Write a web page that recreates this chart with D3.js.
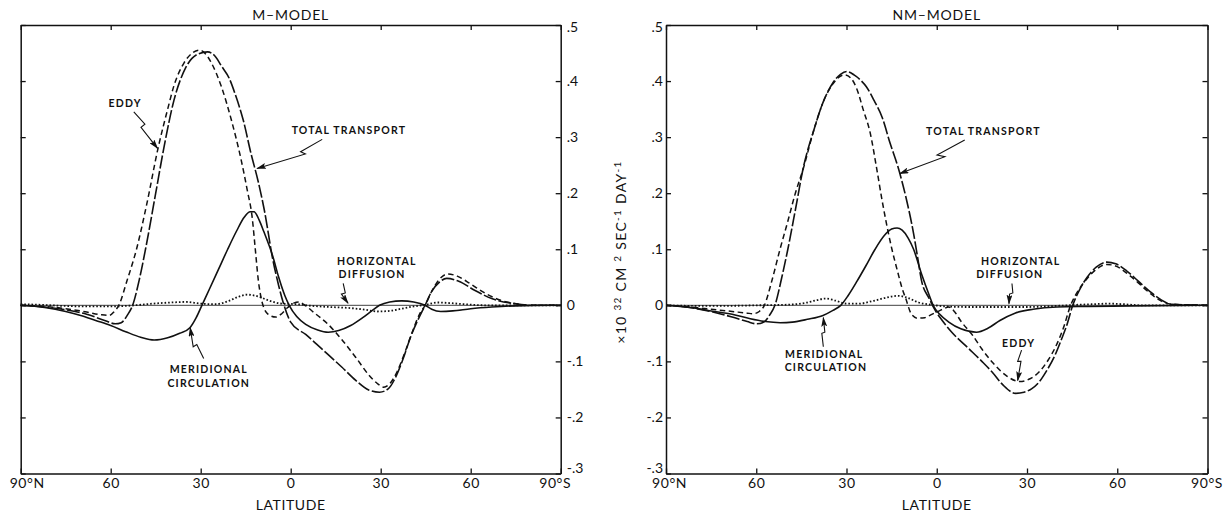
<!DOCTYPE html>
<html>
<head>
<meta charset="utf-8">
<script src="https://cdn.jsdelivr.net/npm/d3@7"></script>
<style>
  body { margin: 0; background: #fff; }
  svg { display: block; }
  text { font-family: Lato, "Open Sans", sans-serif; fill: #111; }
  .note { font-weight: bold; font-size: 10.5px; letter-spacing: 1.2px; }
</style>
</head>
<body>
<svg id="chart" width="1231" height="514"></svg>
<script>
// Latitude axis (degrees, north positive) and transport axis (10^32 cm^2 s^-1 day^-1)
const latTicks = [90, 60, 30, 0, -30, -60, -90];
const latTickLabels = ["90°N", "60", "30", "0", "30", "60", "90°S"];
const valueTicks = [0.5, 0.4, 0.3, 0.2, 0.1, 0, -0.1, -0.2, -0.3];
const valueTickLabels = [".5", ".4", ".3", ".2", ".1", "0", "-.1", "-.2", "-.3"];
const panelTitles = ["M–MODEL", "NM–MODEL"];
const xAxisTitle = "LATITUDE";

// ---- M-model profiles: [latitude, transport] ----
const mTotal = [[90,0],[82,-0.003],[75,-0.008],[68,-0.016],[62,-0.027],[58.5,-0.033],[56.5,-0.031],[54.5,-0.018],[52.7,0],[50.5,0.045],[48.4,0.1],[45,0.2],[42.2,0.283],[38.9,0.366],[35,0.424],[31,0.448],[27.7,0.452],[25,0.443],[23.1,0.427],[20.5,0.405],[18.4,0.375],[15.8,0.33],[13.2,0.27],[10.8,0.22],[8.8,0.17],[5.9,0.08],[4,0.035],[2.5,0.005],[0,-0.03],[-5,-0.052],[-12.5,-0.088],[-17,-0.11],[-21.7,-0.134],[-26,-0.151],[-29.6,-0.155],[-32.5,-0.149],[-35,-0.128],[-37.5,-0.095],[-40,-0.056],[-42.5,-0.025],[-44.8,0],[-47,0.025],[-49.5,0.041],[-52,0.048],[-56,0.043],[-61.3,0.027],[-67,0.012],[-74.5,0.003],[-80,0],[-90,0]];
const mEddy = [[90,0],[82,-0.002],[75,-0.006],[68,-0.012],[63,-0.017],[60.5,-0.018],[58.8,-0.011],[57.3,0],[54.5,0.045],[51.4,0.1],[48,0.18],[44.1,0.283],[41,0.35],[38.9,0.392],[35.5,0.433],[32.5,0.451],[30.3,0.455],[28.3,0.448],[26.4,0.432],[23.1,0.39],[19.8,0.331],[16.5,0.259],[14.5,0.206],[12.8,0.155],[11.8,0.1],[10.8,0.045],[9.5,0.005],[7.5,-0.016],[5,-0.021],[3,-0.015],[1,-0.004],[-1,0.004],[-2.8,0.006],[-4.5,0.001],[-8,-0.014],[-12.5,-0.034],[-17,-0.061],[-21.7,-0.093],[-26,-0.124],[-29,-0.14],[-31,-0.146],[-33,-0.14],[-35.5,-0.118],[-38,-0.085],[-40.5,-0.048],[-43,-0.015],[-44.8,0],[-47,0.025],[-49.5,0.046],[-52.5,0.056],[-55.5,0.052],[-60,0.038],[-65,0.021],[-70,0.009],[-75,0.003],[-80,0],[-90,0]];
const mMeridional = [[90,0],[82,-0.004],[75,-0.011],[70,-0.018],[65,-0.027],[60,-0.036],[55,-0.047],[50,-0.057],[45.5,-0.062],[41,-0.058],[37,-0.05],[33.6,-0.04],[31.5,-0.022],[29.6,0],[27,0.03],[24,0.065],[21,0.1],[18,0.133],[15.5,0.157],[13.5,0.167],[12.2,0.167],[10.5,0.152],[9,0.132],[6,0.088],[4,0.05],[2,0.018],[0.5,0],[-2,-0.02],[-5,-0.034],[-9,-0.044],[-12.5,-0.048],[-16,-0.045],[-20,-0.036],[-24,-0.022],[-27,-0.01],[-29.6,0],[-33,0.006],[-37,0.008],[-41,0.006],[-44.8,0],[-47,-0.007],[-50,-0.011],[-54,-0.01],[-60,-0.006],[-67,-0.003],[-75,-0.001],[-90,0]];
const mDiffusion = [[90,0.002],[84,0.001],[76,-0.001],[68,-0.002],[60,-0.002],[52,0],[46,0.003],[40,0.005],[35,0.006],[30,0.003],[25,0.002],[21,0.007],[17.5,0.015],[14.5,0.019],[11,0.016],[7,0.008],[3,0.003],[-2,0.002],[-7,-0.001],[-13,-0.003],[-20,-0.005],[-25,-0.008],[-29,-0.011],[-33,-0.01],[-37,-0.006],[-41,-0.002],[-45,0.001],[-49,0.005],[-53,0.004],[-58,0.002],[-65,0],[-90,0]];

// ---- NM-model profiles: [latitude, transport] ----
const nmTotal = [[90,0],[82,-0.004],[75,-0.011],[68,-0.021],[63,-0.029],[60,-0.033],[57.5,-0.03],[55.5,-0.017],[53.8,0],[51.5,0.05],[49.5,0.1],[47,0.17],[44.3,0.247],[41,0.31],[37.8,0.362],[34.5,0.397],[32,0.412],[29.9,0.417],[27.5,0.411],[25,0.4],[23.4,0.39],[20.8,0.365],[18.2,0.336],[15.5,0.289],[12.9,0.247],[10.3,0.194],[7.7,0.128],[6.4,0.087],[5.1,0.045],[2.5,0.012],[0.5,-0.009],[-1.4,-0.024],[-5,-0.048],[-10.6,-0.077],[-15,-0.1],[-18.4,-0.119],[-22,-0.142],[-26.2,-0.157],[-29,-0.155],[-31.5,-0.149],[-34,-0.137],[-36.5,-0.117],[-39.3,-0.089],[-41.5,-0.06],[-43.2,-0.036],[-45.2,0],[-47.5,0.028],[-50,0.05],[-53,0.068],[-56.5,0.077],[-59.5,0.074],[-63,0.062],[-67,0.043],[-71,0.024],[-74.5,0.01],[-78,0.002],[-90,0]];
const nmEddy = [[90,0],[82,-0.003],[75,-0.007],[68,-0.011],[63,-0.014],[61,-0.015],[59,-0.011],[57.3,0],[55,0.04],[52.1,0.1],[49.5,0.15],[47,0.2],[44.3,0.245],[41,0.31],[37.8,0.362],[34.5,0.395],[32.5,0.407],[30.6,0.411],[28.5,0.405],[26.5,0.385],[24.5,0.35],[22.1,0.307],[20,0.245],[18.2,0.188],[16.5,0.14],[14.9,0.1],[13,0.06],[11.5,0.03],[10.3,0.012],[8.4,-0.016],[6.4,-0.023],[4,-0.022],[2,-0.017],[0,-0.012],[-2,-0.007],[-4,-0.003],[-6,-0.012],[-8,-0.028],[-12,-0.054],[-15,-0.078],[-18.4,-0.101],[-23,-0.125],[-27.6,-0.136],[-31,-0.131],[-34,-0.119],[-37,-0.098],[-39.5,-0.074],[-42,-0.042],[-44.5,0],[-47,0.026],[-50,0.048],[-53,0.064],[-56.5,0.073],[-59.5,0.07],[-63,0.058],[-67,0.04],[-71,0.021],[-74.5,0.008],[-78,0.002],[-90,0]];
const nmMeridional = [[90,0],[82,-0.004],[75,-0.01],[68,-0.016],[62,-0.024],[57,-0.029],[52,-0.031],[48,-0.03],[43,-0.025],[37.8,-0.018],[34.5,-0.009],[31.9,0],[29.5,0.017],[26.5,0.043],[23.5,0.071],[20.5,0.1],[17.5,0.124],[15,0.136],[13.2,0.138],[11.5,0.134],[9.5,0.12],[7.7,0.1],[5,0.055],[2.5,0.018],[1.2,0],[-1,-0.016],[-4,-0.03],[-8,-0.042],[-13.2,-0.048],[-17,-0.041],[-21,-0.027],[-26,-0.014],[-32,-0.007],[-40,-0.003],[-50,-0.002],[-65,-0.001],[-90,0]];
const nmDiffusion = [[90,0],[80,-0.001],[70,-0.001],[60,0],[50,0.001],[44,0.004],[40,0.009],[37,0.012],[34,0.009],[30,0.003],[26,0.003],[21,0.008],[16.5,0.014],[13,0.017],[10,0.014],[6,0.005],[2,0.001],[-3,-0.002],[-10,-0.003],[-20,-0.003],[-30,-0.003],[-40,-0.001],[-47,0.001],[-52,0.002],[-57,0.003],[-62,0.002],[-68,0],[-90,0]];

// ---- curve labels and pointer arrows, in [latitude, transport] units ----
const mLabels = [
  ["EDDY", 55.2, 0.353], ["TOTAL TRANSPORT", -19.4, 0.3055],
  ["HORIZONTAL", -28.7, 0.072], ["DIFFUSION", -27.1, 0.048],
  ["MERIDIONAL", 27.3, -0.121], ["CIRCULATION", 27.3, -0.145]
];
const mArrows = [
  [[52.3,0.345],[48.6,0.323],[49.9,0.3175],[44.4,0.28]],
  [[-10.5,0.296],[-3.3,0.274],[-4.9,0.27],[11.2,0.244]],
  [[-17.5,0.039],[-18.2,0.022],[-16.9,0.02],[-19.1,0.004]],
  [[29,-0.095],[31.3,-0.07],[32.5,-0.074],[33.5,-0.04]]
];
const nmLabels = [
  ["TOTAL TRANSPORT", -15.5, 0.304],
  ["HORIZONTAL", -27.9, 0.072], ["DIFFUSION", -24.3, 0.048],
  ["MERIDIONAL", 37.4, -0.0945], ["CIRCULATION", 36.8, -0.118],
  ["EDDY", -27.2, -0.074]
];
const nmArrows = [
  [[-9.3,0.295],[-0.1,0.268],[-2.7,0.265],[12.3,0.235]],
  [[-25,0.039],[-25.3,0.022],[-24.2,0.02],[-24,0.003]],
  [[37.7,-0.074],[38.2,-0.05],[37.2,-0.048],[37.7,-0.022]],
  [[-28.2,-0.08],[-26.9,-0.1],[-28,-0.1],[-26.9,-0.134]]
];

const svg = d3.select("#chart");
const plotTop = 25, plotBottom = 473.5;

svg.append("defs").append("marker")
  .attr("id", "head").attr("markerUnits", "userSpaceOnUse")
  .attr("viewBox", "0 0 10 6").attr("refX", 9).attr("refY", 3)
  .attr("markerWidth", 10).attr("markerHeight", 6).attr("orient", "auto")
  .append("path").attr("d", "M0,0 L10,3 L0,6 L2,3 Z").attr("fill", "#111");

const panels = [
  { title: panelTitles[0], x0: 20.7, x1: 560.7, labelSide: "right", endShift: [6, -6],
    series: [mTotal, mEddy, mMeridional, mDiffusion], labels: mLabels, arrows: mArrows },
  { title: panelTitles[1], x0: 666, x1: 1207.5, labelSide: "left", endShift: [3, -1],
    series: [nmTotal, nmEddy, nmMeridional, nmDiffusion], labels: nmLabels, arrows: nmArrows }
];

// total, eddy, meridional circulation, horizontal diffusion
const styles = [
  { dash: "13,2.5", width: 1.6 },
  { dash: "5.5,3.5", width: 1.5 },
  { dash: null, width: 1.6 },
  { dash: "1.6,2", width: 1.8 }
];

panels.forEach(p => {
  const x = d3.scaleLinear().domain([90, -90]).range([p.x0, p.x1]);
  const y = d3.scaleLinear().domain([0.5, -0.3]).range([plotTop, plotBottom]);
  const g = svg.append("g");

  // bottom axis: inward ticks, latitude labels
  const ax = g.append("g").attr("transform", `translate(0,${plotBottom})`)
    .call(d3.axisBottom(x).tickValues(latTicks)
      .tickFormat((d, i) => latTickLabels[i]).tickSizeInner(-5).tickSizeOuter(0).tickPadding(5));
  ax.selectAll("text").attr("font-size", 14).attr("letter-spacing", 0.6)
    .attr("dx", (d, i) => i === 0 ? p.endShift[0] : i === latTicks.length - 1 ? p.endShift[1] : 0);
  // top axis: ticks only
  g.append("g").attr("transform", `translate(0,${plotTop})`)
    .call(d3.axisTop(x).tickValues(latTicks).tickFormat("").tickSizeInner(-5).tickSizeOuter(0));

  // value axes: labels on the inner side between the panels
  const labelled = p.labelSide === "right"
    ? d3.axisRight(y).tickPadding(6)
    : d3.axisLeft(y).tickPadding(3);
  const ay = g.append("g").attr("transform", `translate(${p.labelSide === "right" ? p.x1 : p.x0},0)`)
    .call(labelled.tickValues(valueTicks).tickFormat((d, i) => valueTickLabels[i]).tickSizeInner(-5).tickSizeOuter(0));
  // end labels sit slightly inside the frame corners
  ay.selectAll("text").attr("font-size", 14)
    .attr("y", (d, i) => i === 0 ? 2.5 : i === valueTicks.length - 1 ? -5 : 0);
  const plain = p.labelSide === "right" ? d3.axisLeft(y) : d3.axisRight(y);
  g.append("g").attr("transform", `translate(${p.labelSide === "right" ? p.x0 : p.x1},0)`)
    .call(plain.tickValues(valueTicks).tickFormat("").tickSizeInner(-5).tickSizeOuter(0));

  g.selectAll(".domain").attr("stroke", "#111").attr("stroke-width", 1.5);
  g.selectAll(".tick line").attr("stroke", "#111").attr("stroke-width", 1.3);
  g.selectAll(".tick text").attr("fill", "#111").attr("font-family", "Lato, 'Open Sans', sans-serif");

  // zero line
  g.append("line").attr("x1", p.x0).attr("x2", p.x1).attr("y1", y(0)).attr("y2", y(0))
    .attr("stroke", "#111").attr("stroke-width", 0.8);

  // curves
  const line = d3.line().x(d => x(d[0])).y(d => y(d[1])).curve(d3.curveMonotoneX);
  p.series.forEach((s, i) => {
    g.append("path").attr("d", line(s)).attr("fill", "none")
      .attr("stroke", "#111").attr("stroke-width", styles[i].width)
      .attr("stroke-dasharray", styles[i].dash).attr("stroke-linejoin", "round");
  });

  // titles
  g.append("text").attr("x", (p.x0 + p.x1) / 2).attr("y", 20).attr("text-anchor", "middle")
    .attr("font-size", 14).attr("letter-spacing", 0.8).text(p.title);
  g.append("text").attr("x", (p.x0 + p.x1) / 2).attr("y", 510).attr("text-anchor", "middle")
    .attr("font-size", 14).attr("letter-spacing", 0.6).text(xAxisTitle);

  // curve labels
  p.labels.forEach(l => {
    g.append("text").attr("class", "note").attr("x", x(l[1])).attr("y", y(l[2]))
      .attr("text-anchor", "middle").text(l[0]);
  });
  const arrowLine = d3.line().x(d => x(d[0])).y(d => y(d[1]));
  p.arrows.forEach(a => {
    g.append("path").attr("d", arrowLine(a)).attr("fill", "none")
      .attr("stroke", "#111").attr("stroke-width", 1.1).attr("marker-end", "url(#head)");
  });
});

// shared unit label between the panels
const unit = svg.append("text").attr("transform", "translate(626,252) rotate(-90)")
  .attr("text-anchor", "middle").attr("font-size", 14).attr("letter-spacing", 1.3);
[["×10 ", 0], ["32", -5], [" CM ", 5], ["2", -5], [" SEC", 5], ["-1", -5], [" DAY", 5], ["-1", -5]]
  .forEach(([t, dy], i) => {
    unit.append("tspan").attr("dy", dy).attr("font-size", i % 2 ? 10 : 14).text(t);
  });
</script>
</body>
</html>
